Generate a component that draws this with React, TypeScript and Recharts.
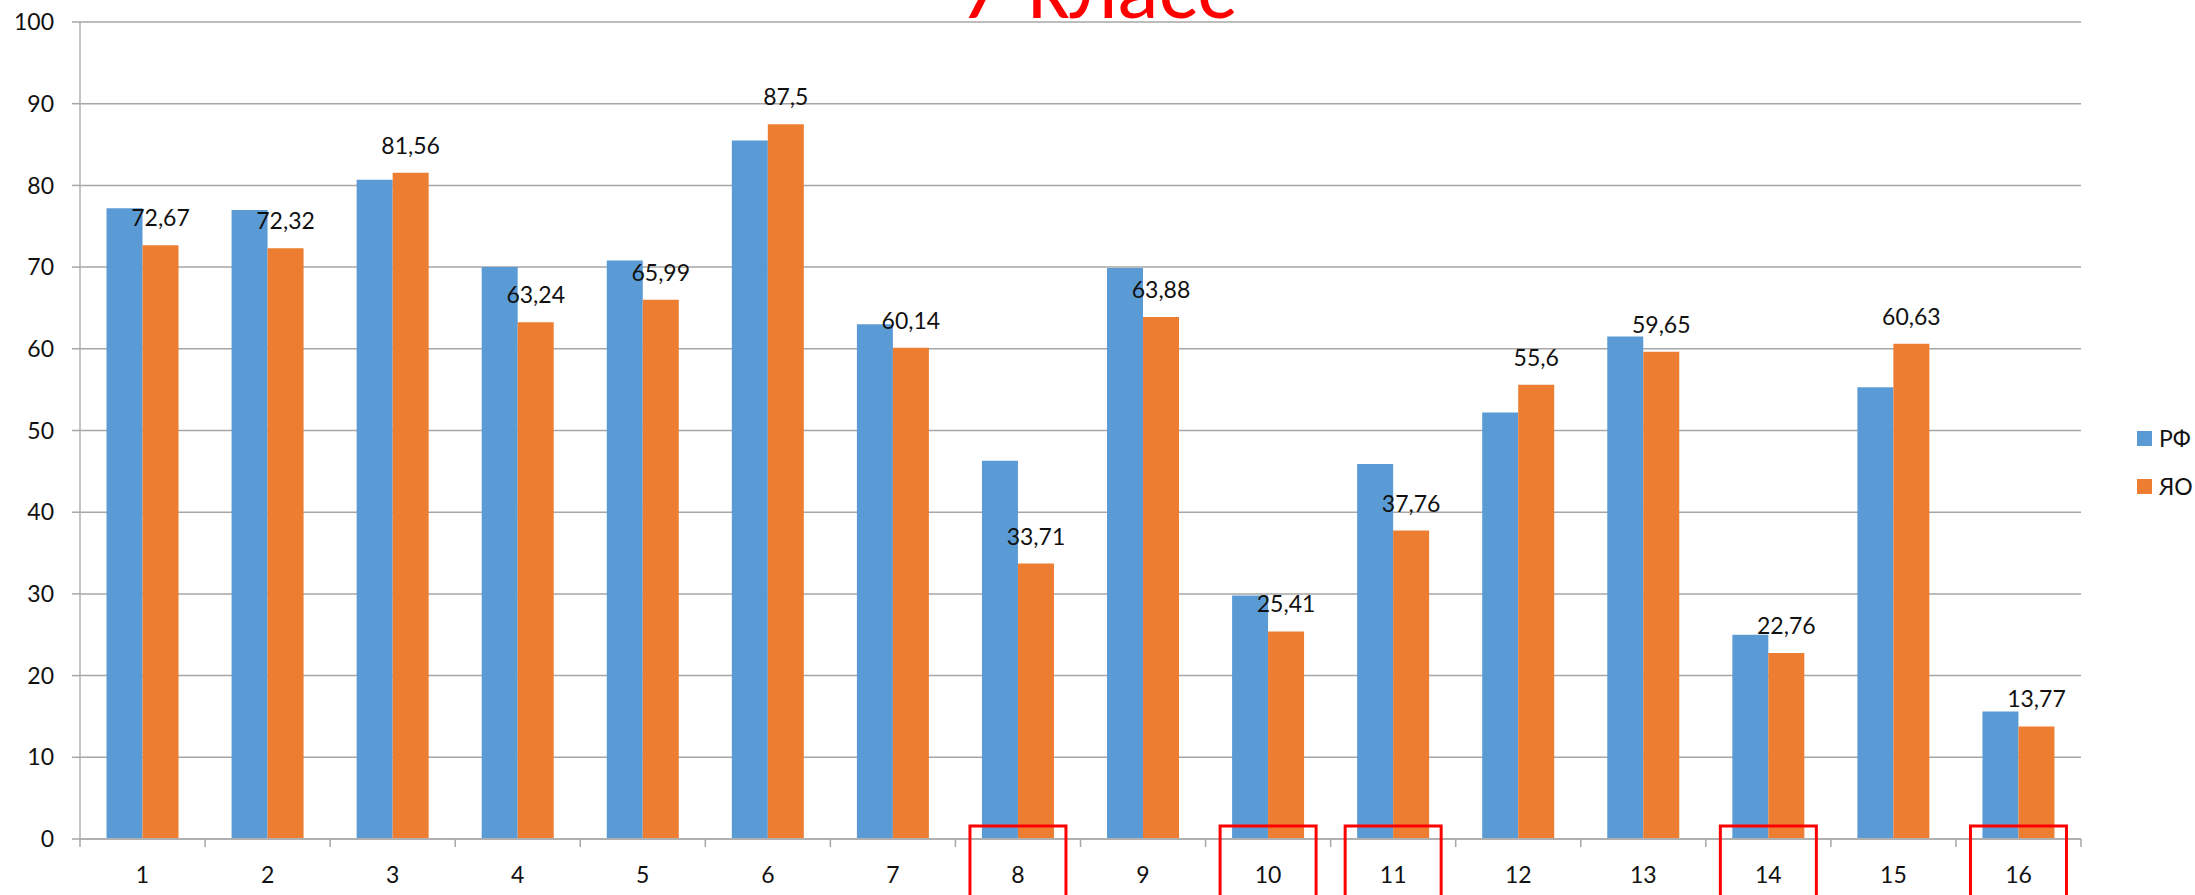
import React from "react";
import {
  Bar,
  BarChart,
  CartesianGrid,
  LabelList,
  Legend,
  XAxis,
  YAxis,
} from "recharts";

// task numbers
const categories = ["1", "2", "3", "4", "5", "6", "7", "8", "9", "10", "11", "12", "13", "14", "15", "16"];
// average score, whole country
const rfValues = [77.2, 77.0, 80.7, 70.0, 70.8, 85.5, 63.0, 46.3, 69.9, 29.8, 45.9, 52.2, 61.5, 25.0, 55.3, 15.6];
// average score, region
const yoValues = [72.67, 72.32, 81.56, 63.24, 65.99, 87.5, 60.14, 33.71, 63.88, 25.41, 37.76, 55.6, 59.65, 22.76, 60.63, 13.77];
// tasks boxed in red under the axis
const flagged = ["8", "10", "11", "14", "16"];
const yTicks = [0, 10, 20, 30, 40, 50, 60, 70, 80, 90, 100];

const data = categories.map((c, i) => ({ task: c, РФ: rfValues[i], ЯО: yoValues[i] }));

const W = 2195;
const H = 895;
const Y_AXIS_W = 80;
const LEGEND_W = 100;
const MARGIN = { top: 22, right: 14, bottom: 0, left: 0 };
const X_AXIS_H = 56;
const PLOT_W = W - MARGIN.left - Y_AXIS_W - MARGIN.right - LEGEND_W;
const BAND = PLOT_W / categories.length;

const BLUE = "#5B9BD5";
const ORANGE = "#ED7D31";
const GRID = "#a6a6a6";
const FONT = "Lato, 'Noto Sans', sans-serif";

const fmt = (v: number) => String(v).replace(".", ",");

function TaskTick(props: any) {
  const { x, y, payload, index } = props;
  const last = index === categories.length - 1;
  const boxed = flagged.includes(payload.value);
  return (
    <g>
      <line x1={x - BAND / 2} y1={y} x2={x - BAND / 2} y2={y + 8} stroke={GRID} strokeWidth={1.5} />
      {last && <line x1={x + BAND / 2} y1={y} x2={x + BAND / 2} y2={y + 8} stroke={GRID} strokeWidth={1.5} />}
      <text x={x} y={y + 44} textAnchor="middle" fontSize={23} fontFamily={FONT} fill="#111">
        {payload.value}
      </text>
      {boxed && (
        <rect x={x - 48} y={y - 13} width={96} height={90} fill="none" stroke="#ff0000" strokeWidth={3} />
      )}
    </g>
  );
}

function LegendBox() {
  const items = [
    { name: "РФ", color: BLUE },
    { name: "ЯО", color: ORANGE },
  ];
  return (
    <div style={{ width: LEGEND_W, fontFamily: FONT }}>
      {items.map((it) => (
        <div
          key={it.name}
          style={{ height: 48, display: "flex", alignItems: "center", paddingLeft: 56, whiteSpace: "nowrap" }}
        >
          <span
            style={{ width: 15, height: 15, flex: "0 0 15px", background: it.color, display: "block", marginRight: 7 }}
          />
          <span style={{ fontSize: 23, color: "#111", flex: "0 0 auto" }}>{it.name}</span>
        </div>
      ))}
    </div>
  );
}

export default function App() {
  return (
    <div style={{ position: "absolute", left: 0, top: 0, width: W, height: H, background: "#fff" }}>
      <BarChart width={W} height={H} data={data} margin={MARGIN} barCategoryGap="21.2%" barGap={0}>
        <CartesianGrid vertical={false} stroke={GRID} strokeWidth={1.5} />
        <XAxis
          dataKey="task"
          height={X_AXIS_H}
          tickSize={0}
          tickMargin={0}
          tickLine={false}
          axisLine={{ stroke: "#b0b0b0", strokeWidth: 2 }}
          interval={0}
          tick={<TaskTick />}
        />
        <YAxis
          width={Y_AXIS_W}
          domain={[0, 100]}
          ticks={yTicks}
          interval={0}
          tickSize={8}
          tickMargin={18}
          tickLine={{ stroke: GRID, strokeWidth: 1.5 }}
          axisLine={{ stroke: "#b0b0b0", strokeWidth: 1.5 }}
          tick={{ fontSize: 23, fontFamily: FONT, fill: "#111" }}
        />
        <Legend
          layout="vertical"
          align="right"
          verticalAlign="middle"
          width={LEGEND_W}
          wrapperStyle={{ top: 414, overflow: "visible" }}
          content={<LegendBox />}
        />
        <Bar dataKey="РФ" fill={BLUE} isAnimationActive={false} />
        <Bar dataKey="ЯО" fill={ORANGE} isAnimationActive={false}>
          <LabelList
            dataKey="ЯО"
            position="top"
            offset={19}
            formatter={(v: any) => fmt(v)}
            style={{ fontSize: 23, fontFamily: FONT, fill: "#111" }}
          />
        </Bar>
      </BarChart>
      <svg width={W} height={40} style={{ position: "absolute", left: 0, top: 0, pointerEvents: "none" }}>
        <text x={W / 2} y={17.5} textAnchor="middle" fontSize={82} fontFamily={FONT} fill="#ff0000">
          7 класс
        </text>
      </svg>
    </div>
  );
}
